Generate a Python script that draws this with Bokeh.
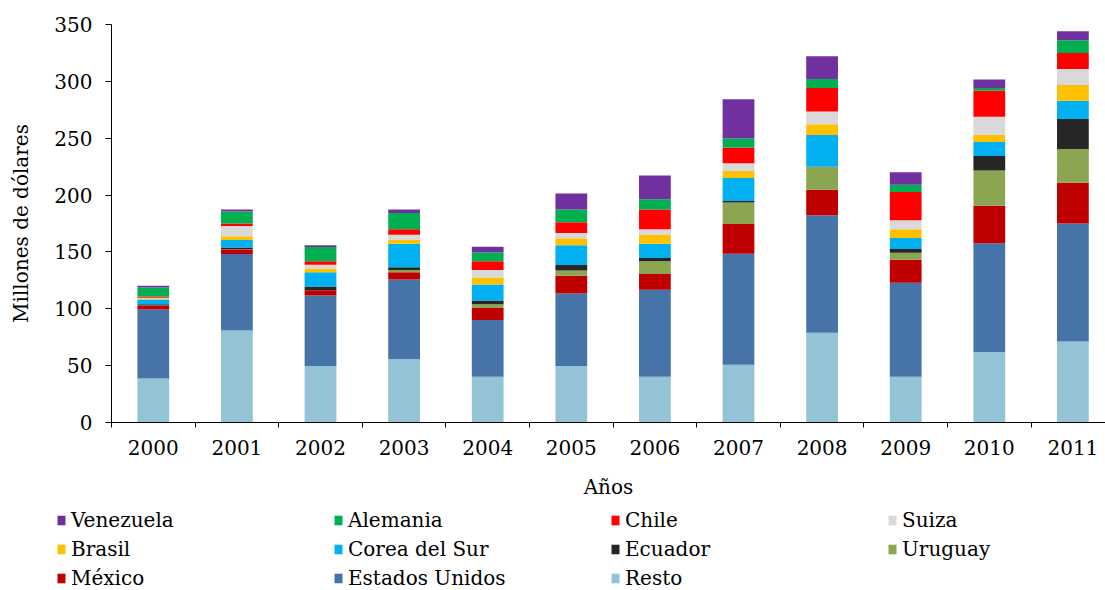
from bokeh.plotting import figure
from bokeh.layouts import column
from bokeh.models import Range1d, FixedTicker, Legend, LegendItem, ColumnDataSource
from bokeh.embed import file_html
from bokeh.resources import INLINE

years = ["2000", "2001", "2002", "2003", "2004", "2005",
         "2006", "2007", "2008", "2009", "2010", "2011"]

resto = [38.7, 80.8, 49.6, 55.8, 40.2, 49.6, 40.2, 50.8, 79.0, 40.2, 62.0, 71.3]
estados_unidos = [60.6, 67.3, 62.1, 70.0, 50.0, 63.8, 76.5, 97.7, 103.3, 82.7, 95.6, 103.6]
mexico = [3.3, 4.2, 4.6, 6.4, 10.6, 15.6, 13.8, 26.1, 22.3, 20.3, 32.9, 35.9]
uruguay = [0.3, 0.3, 0.0, 1.8, 3.2, 4.7, 11.2, 18.9, 20.3, 6.1, 31.2, 29.7]
ecuador = [1.0, 1.4, 3.3, 2.6, 3.2, 4.7, 2.9, 1.2, 0.0, 3.2, 12.7, 26.5]
corea = [4.2, 6.5, 12.6, 20.7, 14.2, 17.4, 12.7, 20.3, 28.0, 9.7, 12.3, 15.9]
brasil = [0.5, 3.2, 3.3, 3.2, 6.2, 6.2, 7.6, 6.2, 9.4, 7.7, 6.2, 13.9]
suiza = [1.2, 9.1, 3.3, 4.7, 6.4, 4.7, 5.0, 6.8, 11.2, 8.0, 15.9, 14.1]
chile = [1.0, 2.1, 2.9, 4.7, 7.9, 9.4, 17.4, 13.8, 20.6, 24.9, 23.2, 14.1]
alemania = [7.9, 10.6, 12.6, 14.4, 7.7, 11.2, 9.1, 8.0, 7.9, 6.2, 2.1, 11.1]
venezuela = [1.5, 1.8, 1.5, 3.0, 5.0, 14.1, 20.9, 34.4, 20.0, 11.0, 7.6, 8.0]

series_names = ["Resto", "Estados Unidos", "México", "Uruguay", "Ecuador",
                "Corea del Sur", "Brasil", "Suiza", "Chile", "Alemania", "Venezuela"]
series_values = [resto, estados_unidos, mexico, uruguay, ecuador,
                 corea, brasil, suiza, chile, alemania, venezuela]
series_colors = ["#93C3D4", "#4674A8", "#C00000", "#8CA551", "#262626",
                 "#00B0F0", "#FFC000", "#D9D9D9", "#FF0000", "#00B050", "#7030A0"]

yticks = [0, 50, 100, 150, 200, 250, 300, 350]

FONT = "DejaVu Serif"
FS = "20px"

xpos = list(range(len(years)))
keys = ["s%d" % i for i in range(len(series_names))]
data = {"x": xpos}
for k, v in zip(keys, series_values):
    data[k] = v
source = ColumnDataSource(data)

p = figure(width=1105, height=506,
           x_range=Range1d(-0.5, 11.39), y_range=Range1d(0, 350),
           output_backend="svg", toolbar_location=None,
           min_border_left=111, min_border_right=0,
           min_border_top=24, min_border_bottom=84)

renderers = p.vbar_stack(keys, x="x", width=0.38, source=source,
                         fill_color=series_colors, line_color=None)

p.xgrid.grid_line_color = None
p.ygrid.grid_line_color = None
p.outline_line_color = None
p.background_fill_color = "white"
p.border_fill_color = "white"

# x axis
xa = p.xaxis[0]
xa.ticker = FixedTicker(ticks=xpos, minor_ticks=[i - 0.5 for i in range(len(years) + 1)])
xa.major_label_overrides = {i: y for i, y in enumerate(years)}
xa.major_tick_line_color = None
xa.major_tick_in = 0
xa.major_tick_out = 5
xa.minor_tick_in = 0
xa.minor_tick_out = 5
xa.minor_tick_line_color = "black"
xa.axis_line_color = "black"
xa.major_label_text_font = FONT
xa.major_label_text_font_size = FS
xa.major_label_text_color = "black"
xa.major_label_standoff = 12
xa.axis_label = "Años"
xa.axis_label_text_font = FONT
xa.axis_label_text_font_size = FS
xa.axis_label_text_font_style = "normal"
xa.axis_label_text_color = "black"
xa.axis_label_standoff = 17

# y axis
ya = p.yaxis[0]
ya.ticker = FixedTicker(ticks=yticks, minor_ticks=[])
ya.major_tick_in = 0
ya.major_tick_out = 6
ya.major_tick_line_color = "black"
ya.minor_tick_line_color = None
ya.axis_line_color = "black"
ya.major_label_text_font = FONT
ya.major_label_text_font_size = FS
ya.major_label_text_color = "black"
ya.major_label_standoff = 13
ya.axis_label = "Millones de dólares"
ya.axis_label_text_font = FONT
ya.axis_label_text_font_size = FS
ya.axis_label_text_font_style = "normal"
ya.axis_label_text_color = "black"
ya.axis_label_standoff = 18

# legend figure: same stacked series as hidden renderers (swatches only)
pl = figure(width=1105, height=84, x_range=Range1d(-0.5, 11.5), y_range=Range1d(0, 350),
            output_backend="svg", toolbar_location=None,
            min_border_left=0, min_border_right=0, min_border_top=0, min_border_bottom=0,
            x_axis_type=None, y_axis_type=None)
pl.xgrid.grid_line_color = None
pl.ygrid.grid_line_color = None
pl.outline_line_color = None
pl.border_fill_color = "white"
for fig in (p, pl):
    if "frame_align" in fig.properties():
        fig.frame_align = False

swatches = pl.vbar_stack(keys, x="x", width=0.38, source=source,
                         fill_color=series_colors, line_color=None)
for r in swatches:
    r.visible = False
items = [LegendItem(label=n, renderers=[r])
         for n, r in reversed(list(zip(series_names, swatches)))]
legend = Legend(items=items, location=(56, 0), orientation="horizontal", ncols=4,
                glyph_width=10, glyph_height=12, label_standoff=5, label_width=257,
                label_height=20, spacing=5, padding=0, margin=0,
                border_line_color=None, background_fill_alpha=0,
                inactive_fill_alpha=0, click_policy="none",
                label_text_font=FONT, label_text_font_size=FS, label_text_color="black")
pl.add_layout(legend)

layout = column(p, pl, spacing=0)
open("out.html", "w").write(file_html(layout, INLINE))
